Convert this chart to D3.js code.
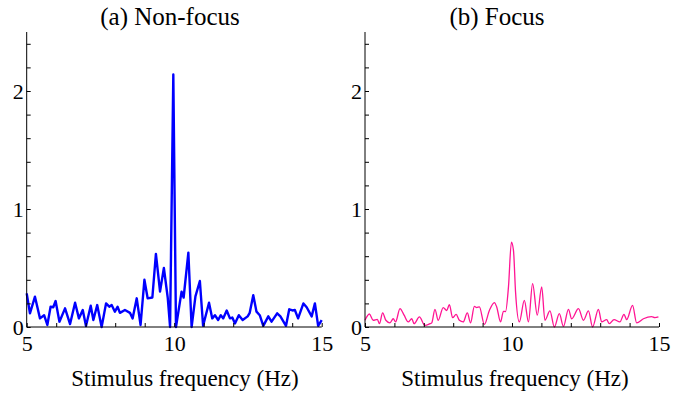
<!DOCTYPE html>
<html>
<head>
<meta charset="utf-8">
<script src="https://cdn.jsdelivr.net/npm/d3@7"></script>
<style>
  body { margin: 0; background: #fff; }
  svg { display: block; }
  text { font-family: "Liberation Serif", "Times New Roman", serif; fill: #000; }
  .axis path, .axis line { stroke: #000; }
</style>
</head>
<body>
<svg width="687" height="394"></svg>
<script>
// (a) Non-focus spectrum
var freqA = [5, 5.11, 5.28, 5.45, 5.59, 5.70, 5.81, 5.90, 5.98, 6.11, 6.30, 6.47, 6.64, 6.77, 6.90, 7.01,
             7.17, 7.26, 7.39, 7.54, 7.69, 7.80, 7.88, 7.99, 8.08, 8.16, 8.33, 8.50, 8.59, 8.73, 8.86, 8.99,
             9.10, 9.26, 9.38, 9.52, 9.65, 9.78, 9.86, 9.97, 10.06, 10.25, 10.32, 10.48, 10.59, 10.72, 10.87,
             10.98, 11.18, 11.29, 11.38, 11.49, 11.58, 11.66, 11.78, 11.89, 11.97, 12.06, 12.19, 12.32, 12.49,
             12.56, 12.68, 12.79, 12.90, 13.02, 13.19, 13.30, 13.49, 13.60, 13.79, 13.90, 14.01, 14.09, 14.20,
             14.38, 14.49, 14.66, 14.77, 14.88, 15];
var powA  = [0.285, 0.116, 0.257, 0.073, 0.10, 0.017, 0.172, 0.167, 0.22, 0.045, 0.158, 0.025, 0.206, 0.073, 0.144, 0.008,
             0.18, 0.059, 0.186, 0, 0.2, 0.172, 0.186, 0.13, 0.172, 0.12, 0.144, 0.12, 0.073, 0.243, 0.017, 0.40,
             0.243, 0.25, 0.62, 0.30, 0.50, 0.25, 0, 2.14, 0, 0.30, 0.25, 0.63, 0, 0.26, 0.39,
             0.01, 0.206, 0.073, 0.10, 0.059, 0.10, 0.073, 0.14, 0.073, 0.08, 0.03, 0.10, 0.059, 0.09,
             0.12, 0.27, 0.13, 0.10, 0.01, 0.09, 0.045, 0.116, 0.09, 0.01, 0.15, 0.14, 0.144, 0.073,
             0.2, 0.167, 0.09, 0.2, 0.01, 0.059];

// (b) Focus spectrum
var freqB = [5, 5.15, 5.28, 5.42, 5.49, 5.60, 5.71, 5.85, 5.96, 6.04, 6.19, 6.33, 6.47, 6.59, 6.67, 6.85,
             7.04, 7.21, 7.27, 7.38, 7.49, 7.66, 7.78, 7.87, 7.98, 8.10, 8.21, 8.34, 8.48, 8.59, 8.72, 8.80,
             8.89, 9.06, 9.23, 9.40, 9.48, 9.61, 9.71, 9.78, 9.88, 9.98, 10.05, 10.12, 10.25, 10.42, 10.56,
             10.70, 10.86, 11.01, 11.12, 11.29, 11.44, 11.61, 11.75, 11.92, 12.03, 12.26, 12.43, 12.60, 12.74,
             12.94, 13.05, 13.22, 13.31, 13.47, 13.67, 13.81, 13.90, 14.10, 14.24, 14.47, 14.75, 14.86, 14.98];
var powB  = [0.057, 0.11, 0.057, 0.065, 0.028, 0.12, 0.057, 0.035, 0.07, 0.043, 0.156, 0.10, 0.043, 0.07, 0.028, 0.085,
             0.014, 0.028, 0.035, 0.15, 0.057, 0.165, 0.14, 0.19, 0.079, 0.107, 0.057, 0.043, 0.119, 0.035, 0.175, 0.165,
             0.17, 0.022, 0.14, 0.207, 0.17, 0.043, 0.133, 0.13, 0.34, 0.72, 0.65, 0.30, 0.043, 0.226, 0.043,
             0.368, 0.10, 0.34, 0.057, 0.136, 0, 0.113, 0.005, 0.15, 0.07, 0.156, 0.057, 0.136, 0,
             0.15, 0.043, 0.062, 0.028, 0.062, 0.043, 0.107, 0.062, 0.183, 0.035, 0.07, 0.088, 0.079, 0.085];

var xTicks = d3.range(5, 16, 1);
var yTicks = d3.range(0, 2.5, 0.2);

var svg = d3.select("svg");

var panels = [
  { title: "(a) Non-focus", titleX: 170, labelX: 185, left: 26.7, right: 321.7,
    f: freqA, v: powA, color: "#0000ff", width: 2.4, curve: d3.curveLinear },
  { title: "(b) Focus", titleX: 497, labelX: 515, left: 365, right: 659,
    f: freqB, v: powB, color: "#ff1493", width: 1.3, curve: d3.curveMonotoneX }
];

var plotTop = 32, plotBottom = 327;

panels.forEach(function(p) {
  var x = d3.scaleLinear().domain([5, 15]).range([p.left, p.right]),
      y = d3.scaleLinear().domain([0, 2.5]).range([plotBottom, plotTop]);

  var g = svg.append("g");

  var line = d3.line()
    .x(function(d, i) { return x(p.f[i]); })
    .y(function(d) { return y(d); })
    .curve(p.curve);

  g.append("path")
    .datum(p.v)
    .attr("fill", "none")
    .attr("stroke", p.color)
    .attr("stroke-width", p.width)
    .attr("stroke-linejoin", "round")
    .attr("d", line);

  g.append("g")
    .attr("class", "axis")
    .attr("transform", "translate(0," + plotBottom + ")")
    .call(d3.axisBottom(x).tickValues(xTicks).tickSizeInner(-4).tickSizeOuter(0).tickPadding(8)
      .tickFormat(function(d) { return d % 5 === 0 ? d : ""; }))
    .call(function(a) {
      a.select(".domain").attr("d", "M" + p.left + ",0H" + p.right);
      a.selectAll("text").attr("font-size", 22).attr("font-family", null);
    });

  g.append("g")
    .attr("class", "axis")
    .attr("transform", "translate(" + p.left + ",0)")
    .call(d3.axisLeft(y).tickValues(yTicks).tickSizeInner(-4).tickSizeOuter(0).tickPadding(3)
      .tickFormat(function(d) { return Math.abs(d - Math.round(d)) < 1e-6 ? Math.round(d) : ""; }))
    .call(function(a) {
      a.select(".domain").attr("d", "M0," + plotBottom + "V" + plotTop);
      a.selectAll("text").attr("font-size", 22).attr("font-family", null);
    });

  svg.append("text")
    .attr("x", p.titleX)
    .attr("y", 25)
    .attr("text-anchor", "middle")
    .attr("font-size", 25)
    .text(p.title);

  svg.append("text")
    .attr("x", p.labelX)
    .attr("y", 386)
    .attr("text-anchor", "middle")
    .attr("font-size", 23)
    .text("Stimulus frequency (Hz)");
});
</script>
</body>
</html>
